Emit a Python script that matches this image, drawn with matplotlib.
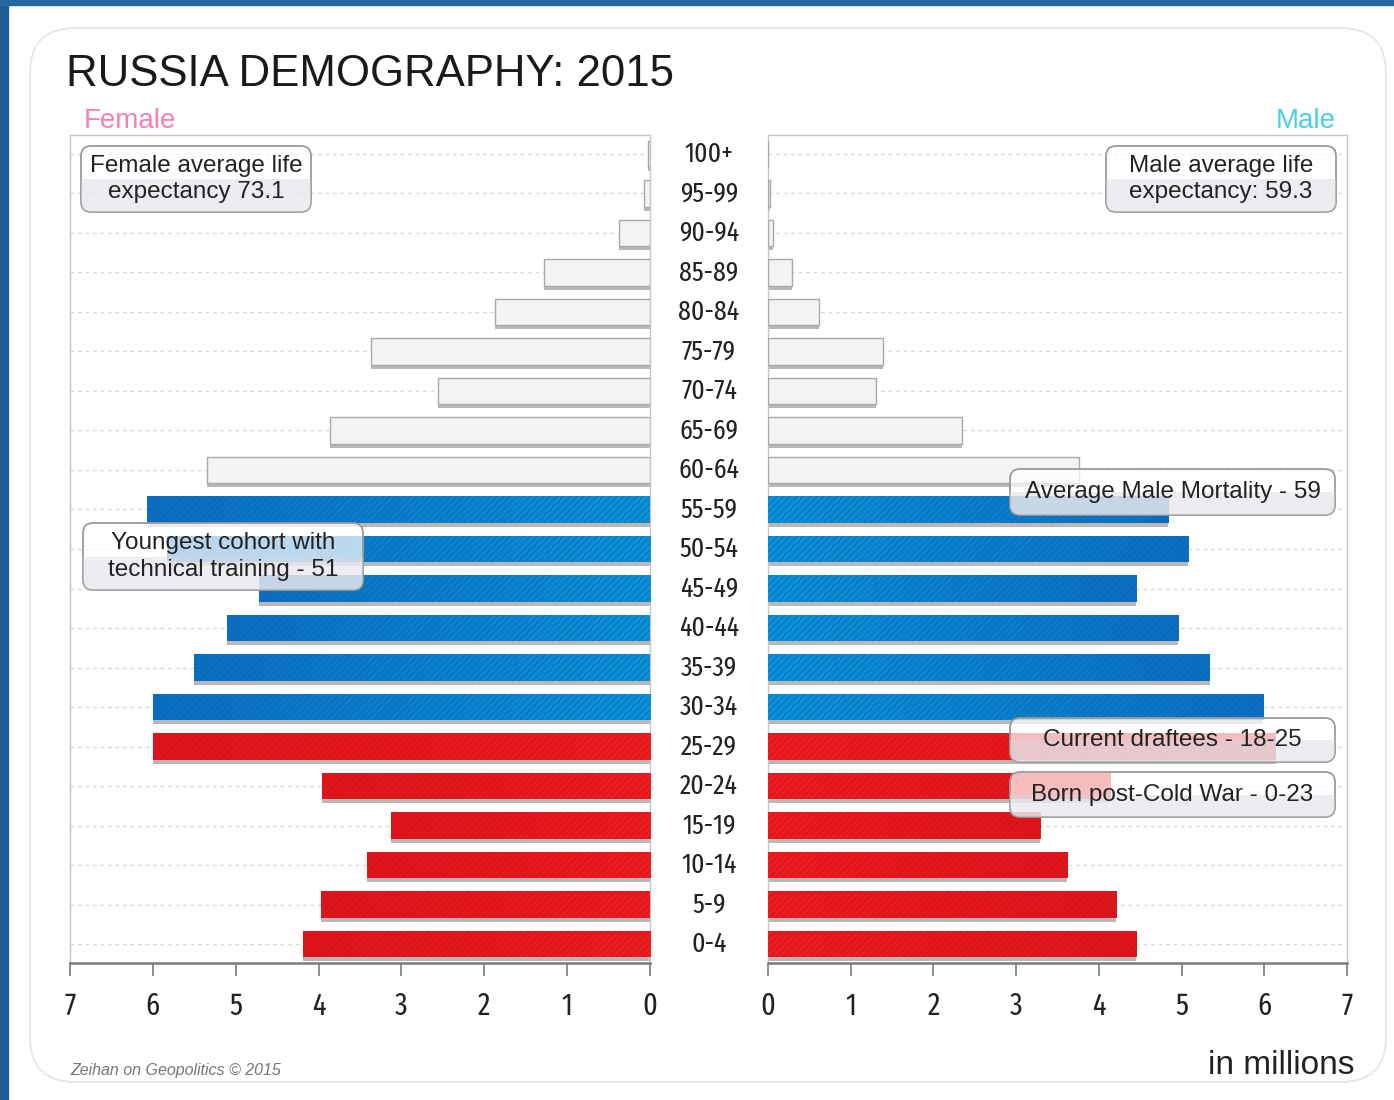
import numpy as np
import matplotlib
matplotlib.use('Agg')
import matplotlib.pyplot as plt
import matplotlib.transforms as mtransforms
from matplotlib import font_manager
from matplotlib.font_manager import FontProperties
from matplotlib.patches import FancyBboxPatch, Rectangle
from matplotlib.colors import LinearSegmentedColormap

# data (millions), bottom row first
ages = ['0-4', '5-9', '10-14', '15-19', '20-24', '25-29', '30-34', '35-39',
        '40-44', '45-49', '50-54', '55-59', '60-64', '65-69', '70-74',
        '75-79', '80-84', '85-89', '90-94', '95-99', '100+']
female = [4.19, 3.97, 3.42, 3.13, 3.96, 6.00, 6.00, 5.50, 5.10, 4.72, 5.83,
          6.07, 5.35, 3.86, 2.56, 3.37, 1.87, 1.28, 0.37, 0.07, 0.02]
male = [4.45, 4.21, 3.62, 3.29, 4.14, 6.14, 5.99, 5.34, 4.96, 4.45, 5.08,
        4.84, 3.76, 2.35, 1.31, 1.39, 0.62, 0.29, 0.06, 0.02, 0.005]
xticks = [0, 1, 2, 3, 4, 5, 6, 7]

W, H = 1394, 1100
SANS = ['Liberation Sans', 'DejaVu Sans']
plt.rcParams['hatch.linewidth'] = 0.5

# pick the narrowest regular-weight face available for the numbers
def stretch_num(f):
    s = f.stretch
    if isinstance(s, str):
        s = font_manager.stretch_dict.get(s.lower(), 500)
    n = f.name.lower()
    if 'narrow' in n or 'condensed' in n:
        s = min(s, 300)
    if 'extra condensed' in n or 'extracondensed' in n:
        s = min(s, 200)
    return s

cands = []
for f in font_manager.fontManager.ttflist:
    w = f.weight if isinstance(f.weight, int) else font_manager.weight_dict.get(str(f.weight).lower(), 400)
    if f.style == 'normal' and 300 <= w <= 500:
        cands.append((stretch_num(f), abs(w - 400), f.fname))
cands.sort()
narrow_path = cands[0][2] if cands and cands[0][0] < 500 else None
if narrow_path:
    NFP = lambda s: FontProperties(fname=narrow_path, size=s)
else:
    NFP = lambda s: FontProperties(family='DejaVu Sans', size=s * 0.8)

fig = plt.figure(figsize=(W / 100, H / 100), dpi=100)
fig.patch.set_facecolor('white')

def fx(px): return px / W
def fy(py): return 1 - py / H

# page background: blue strips + rounded panel
fig.add_artist(Rectangle((0, 0), fx(8), 1, transform=fig.transFigure,
                         color='#1f5d92', zorder=-3))
fig.add_artist(Rectangle((0, fy(5)), 1, 5 / H, transform=fig.transFigure,
                         color='#246a9e', zorder=-3))
fig.add_artist(FancyBboxPatch((0.30, 0.18), 13.56, 10.54,
                              boxstyle='round,pad=0,rounding_size=0.45',
                              transform=fig.dpi_scale_trans, fc='white',
                              ec='#e4e4e4', lw=1.2, zorder=-2))

axL = fig.add_axes([fx(70), fy(963), 580 / W, 828 / H])
axR = fig.add_axes([fx(768), fy(963), 579 / W, 828 / H])

blue_cm = LinearSegmentedColormap.from_list('b', ['#0a92d6', '#0b6fc2'])
red_cm = LinearSegmentedColormap.from_list('r', ['#ee1c1f', '#e0151b'])
y = np.arange(len(ages))
bh = 0.68

def draw_side(ax, vals):
    for i, v in enumerate(vals):
        ax.barh(i - 0.1, v, height=bh, color='#b8b8b8', lw=0, zorder=2)
        if i >= 12:
            ax.barh(i, v, height=bh, fc='#f3f3f3', ec='#a9a9a9', lw=1, zorder=3)
            continue
        cm = red_cm if i < 6 else blue_cm
        hc = '#c9111a' if i < 6 else '#0a64ae'
        bar = ax.barh(i, v, height=bh, color=cm(0.5), lw=0, zorder=3)[0]
        img = ax.imshow(np.linspace(0, 1, 64).reshape(1, -1), cmap=cm,
                        extent=[0, v, i - bh / 2, i + bh / 2], aspect='auto',
                        zorder=3.1, interpolation='bilinear')
        img.set_clip_path(bar)
        ax.barh(i, v, height=bh, fc='none', ec=hc, hatch='/////', lw=0,
                zorder=3.2)

draw_side(axL, female)
draw_side(axR, male)

for ax in (axL, axR):
    ax.set_facecolor('none')
    ax.set_ylim(-0.48, 20.48)
    ax.set_yticks(y)
    ax.tick_params(axis='y', left=False, labelleft=False)
    ax.grid(axis='y', color='#d6d6d6', linestyle=(0, (3, 3)), lw=0.9)
    ax.set_axisbelow(True)
    for s in ['left', 'right', 'top']:
        ax.spines[s].set_color('#c6c6c6')
        ax.spines[s].set_linewidth(1)
    ax.spines['bottom'].set_color('#7a7a7a')
    ax.spines['bottom'].set_linewidth(1.8)
    ax.set_xticks(xticks)
    ax.tick_params(axis='x', length=9, width=1.2, color='#7a7a7a', pad=11,
                   labelcolor='#222222')
    for lab in ax.get_xticklabels():
        lab.set_fontproperties(NFP(22))
axL.set_xlim(7, 0)
axR.set_xlim(0, 7)

# age labels between the two halves
tr = mtransforms.blended_transform_factory(axR.transAxes, axR.transData)
for i, a in enumerate(ages):
    axR.text(-0.102, i, a, transform=tr, ha='center', va='center',
             fontproperties=NFP(20), color='#222222')

# titles
fig.text(fx(66), fy(86), 'RUSSIA DEMOGRAPHY: 2015', fontsize=31.5,
         family=SANS, color='#1a1a1a', va='baseline')
fig.text(fx(84), fy(121), 'Female', fontsize=20, family=SANS,
         color='#f77fb6', va='center')
fig.text(fx(1336), fy(121), 'Male', fontsize=20, family=SANS,
         color='#4dcfe6', va='center', ha='right')

def note(x0, y0, x1, y1, txt):
    left, bottom = x0 / 100, (H - y1) / 100
    w, h = (x1 - x0) / 100, (y1 - y0) / 100
    box = FancyBboxPatch((left, bottom), w, h,
                         boxstyle='round,pad=0,rounding_size=0.1',
                         transform=fig.dpi_scale_trans,
                         fc=(1, 1, 1, 0.72), ec='#9a9a9a', lw=1.3, zorder=5)
    fig.add_artist(box)
    low = Rectangle((left, bottom), w, h / 2, transform=fig.dpi_scale_trans,
                    fc=(0.84, 0.84, 0.88, 0.45), lw=0, zorder=5.1)
    low.set_clip_path(box)
    fig.add_artist(low)
    fig.text(fx((x0 + x1) / 2), fy((y0 + y1) / 2), txt, ha='center',
             va='center', fontsize=17.5, family=SANS, color='#222222',
             linespacing=1.25, zorder=6)

note(81, 146, 311, 212, 'Female average life\nexpectancy 73.1')
note(1106, 146, 1336, 212, 'Male average life\nexpectancy: 59.3')
note(83, 523, 363, 590, 'Youngest cohort with\ntechnical training - 51')
note(1010, 469, 1335, 515, 'Average Male Mortality - 59')
note(1010, 718, 1335, 762, 'Current draftees - 18-25')
note(1010, 772, 1335, 817, 'Born post-Cold War - 0-23')

fig.text(fx(70), fy(1070), 'Zeihan on Geopolitics \u00a9 2015', fontsize=11.5,
         family=SANS, style='italic', color='#777777', va='center')
fig.text(fx(1355), fy(1065), 'in millions', fontsize=24, family=SANS,
         color='#222222', va='center', ha='right')

fig.savefig('out.png', dpi=100)
